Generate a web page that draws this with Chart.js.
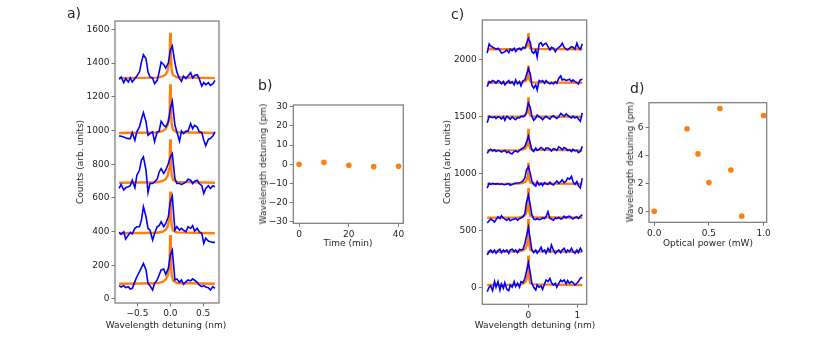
<!DOCTYPE html>
<html>
<head>
<meta charset="utf-8">
<script src="https://cdn.jsdelivr.net/npm/chart.js@4.4.1/dist/chart.umd.min.js"></script>
<style>
  body { margin: 0; background: #fff; }
  #wrap { position: relative; width: 831px; height: 346px; font-family: "DejaVu Sans", sans-serif; color: #262626; }
  canvas { position: absolute; }
  .lbl { position: absolute; font-size: 9px; white-space: nowrap; transform: translate(-50%, -50%); }
  .rot { transform: translate(-50%, -50%) rotate(-90deg); }
  .panel { position: absolute; font-size: 14px; line-height: 14px; }
</style>
</head>
<body>
<div id="wrap">
  <canvas id="chartA" width="180" height="331" style="left:55px;top:5px"></canvas>
  <canvas id="chartB" width="180" height="170" style="left:240px;top:85px"></canvas>
  <canvas id="chartC" width="175" height="331" style="left:425px;top:5px"></canvas>
  <canvas id="chartD" width="185" height="170" style="left:600px;top:85px"></canvas>

  <div class="panel" style="left:67px;top:6px">a)</div>
  <div class="panel" style="left:258px;top:78px">b)</div>
  <div class="panel" style="left:451px;top:7px">c)</div>
  <div class="panel" style="left:630px;top:81px">d)</div>

  <div class="lbl rot" style="left:80px;top:162px">Counts (arb. units)</div>
  <div class="lbl" style="left:166px;top:325px">Wavelength detuning (nm)</div>
  <div class="lbl rot" style="left:263px;top:164px">Wavelength detuning (pm)</div>
  <div class="lbl" style="left:348px;top:243px">Time (min)</div>
  <div class="lbl rot" style="left:447px;top:162px">Counts (arb. units)</div>
  <div class="lbl" style="left:535px;top:325px">Wavelength detuning (nm)</div>
  <div class="lbl rot" style="left:630px;top:162px">Wavelength detuning (pm)</div>
  <div class="lbl" style="left:708px;top:243px">Optical power (mW)</div>
</div>
<script>
// panel a: spectra at different times
const aWave = [-0.78, -0.75, -0.71, -0.68, -0.64, -0.61, -0.58, -0.54, -0.51, -0.47, -0.44, -0.41, -0.37, -0.34, -0.31,
  -0.27, -0.24, -0.20, -0.17, -0.14, -0.10, -0.07, -0.03, 0.00, 0.03, 0.07, 0.10, 0.14, 0.17, 0.20, 0.24, 0.27, 0.31,
  0.34, 0.37, 0.41, 0.44, 0.48, 0.51, 0.54, 0.58, 0.61, 0.65, 0.68];
const aCounts1 = [1304, 1318, 1284, 1308, 1288, 1312, 1288, 1308, 1323, 1347, 1406, 1450, 1426, 1347, 1318, 1312, 1278,
  1298, 1347, 1406, 1391, 1371, 1402, 1475, 1501, 1402, 1347, 1308, 1292, 1323, 1308, 1323, 1343, 1312, 1327, 1331,
  1308, 1264, 1284, 1272, 1284, 1268, 1278, 1298];
const aCounts2 = [968, 966, 962, 956, 952, 952, 988, 942, 992, 1021, 1067, 1106, 1051, 972, 982, 992, 933, 992, 996,
  1055, 1031, 1021, 1051, 1130, 1173, 1031, 992, 936, 996, 982, 996, 996, 1041, 1011, 1031, 1021, 992, 988, 942, 909,
  948, 952, 968, 992];
const aCounts3 = [656, 680, 646, 660, 666, 672, 705, 660, 735, 764, 824, 843, 764, 632, 685, 685, 695, 711, 754, 774,
  745, 764, 804, 843, 863, 715, 685, 685, 680, 685, 695, 711, 705, 685, 699, 705, 685, 672, 626, 656, 672, 656, 672, 666];
const aCounts4 = [395, 383, 399, 356, 379, 395, 387, 419, 429, 429, 468, 547, 488, 419, 409, 350, 389, 429, 435, 458,
  429, 448, 488, 577, 610, 409, 429, 409, 419, 409, 399, 429, 419, 435, 403, 419, 399, 389, 330, 360, 344, 340, 336, 336];
const aCounts5 = [79, 71, 79, 67, 73, 59, 63, 103, 132, 162, 186, 211, 172, 93, 79, 53, 93, 113, 142, 172, 178, 146,
  182, 261, 290, 113, 119, 99, 113, 87, 103, 113, 107, 119, 111, 99, 83, 73, 79, 71, 67, 53, 73, 63];
const aFitWave = [-0.78, -0.2, -0.12, -0.07, -0.04, -0.02, -0.008, 0, 0.008, 0.02, 0.04, 0.1, 0.68];
const aFit1 = [1311, 1314, 1321, 1333, 1356, 1396, 1480, 1580, 1460, 1361, 1329, 1316, 1311];
const aFit2 = [985, 988, 996, 1009, 1033, 1076, 1168, 1275, 1146, 1039, 1004, 990, 985];
const aFit3 = [690, 693, 700, 711, 733, 771, 852, 948, 833, 738, 707, 695, 690];
const aFit4 = [390, 393, 399, 410, 431, 468, 546, 638, 528, 436, 407, 395, 390];
const aFit5 = [90, 93, 101, 114, 138, 181, 273, 380, 251, 144, 109, 95, 90];
const aXTicks = [-0.5, 0, 0.5];
const aYTicks = [0, 200, 400, 600, 800, 1000, 1200, 1400, 1600];

// panel b: drift over time
const timeMin = [0, 10, 20, 30, 40];
const driftPm = [0, 1.0, -0.5, -1.2, -1.0];
const bXTicks = [0, 20, 40];
const bYTicks = [-30, -20, -10, 0, 10, 20, 30];

// panel c: spectra at different optical powers
const cWave = [-0.84, -0.80, -0.77, -0.73, -0.69, -0.66, -0.62, -0.58, -0.55, -0.51, -0.48, -0.44, -0.40, -0.37, -0.33,
  -0.29, -0.26, -0.22, -0.18, -0.15, -0.11, -0.07, -0.04, 0.00, 0.04, 0.07, 0.11, 0.15, 0.18, 0.22, 0.26, 0.29, 0.33,
  0.36, 0.40, 0.44, 0.47, 0.51, 0.55, 0.58, 0.62, 0.66, 0.69, 0.73, 0.77, 0.80, 0.84, 0.88, 0.91, 0.95, 0.99, 1.02,
  1.06, 1.10];
const cCounts1 = [2060, 2142, 2124, 2112, 2104, 2095, 2104, 2083, 2060, 2065, 2074, 2089, 2065, 2095, 2083, 2104, 2074,
  2095, 2104, 2089, 2112, 2104, 2142, 2190, 2153, 2074, 2060, 2089, 2024, 2142, 2153, 2124, 2142, 2148, 2118, 2089,
  2112, 2104, 2074, 2095, 2112, 2124, 2148, 2112, 2095, 2089, 2104, 2118, 2112, 2095, 2148, 2112, 2095, 2142];
const cCounts2 = [1766, 1810, 1801, 1819, 1810, 1796, 1819, 1810, 1790, 1810, 1781, 1801, 1819, 1796, 1810, 1781, 1825,
  1790, 1810, 1772, 1819, 1825, 1869, 1925, 1878, 1781, 1752, 1781, 1737, 1819, 1810, 1819, 1796, 1819, 1801, 1790,
  1801, 1790, 1810, 1796, 1840, 1860, 1825, 1831, 1819, 1825, 1831, 1810, 1825, 1810, 1801, 1790, 1825, 1831];
const cCounts3 = [1448, 1505, 1498, 1492, 1500, 1485, 1502, 1495, 1480, 1500, 1470, 1505, 1490, 1478, 1500, 1485, 1475,
  1495, 1490, 1505, 1500, 1510, 1540, 1620, 1580, 1505, 1470, 1490, 1515, 1500, 1490, 1475, 1495, 1505, 1490, 1480,
  1500, 1510, 1495, 1485, 1500, 1530, 1520, 1505, 1525, 1515, 1500, 1490, 1505, 1490, 1500, 1480, 1460, 1535];
const cCounts4 = [1180, 1205, 1215, 1200, 1210, 1195, 1205, 1200, 1190, 1200, 1205, 1185, 1195, 1180, 1175, 1195, 1200,
  1190, 1205, 1215, 1225, 1240, 1275, 1330, 1265, 1210, 1195, 1225, 1205, 1215, 1230, 1220, 1205, 1225, 1225, 1215,
  1200, 1220, 1215, 1205, 1235, 1225, 1210, 1230, 1220, 1205, 1210, 1195, 1215, 1200, 1205, 1185, 1195, 1240];
const cCounts5 = [872, 915, 905, 912, 910, 908, 912, 905, 910, 905, 902, 908, 912, 898, 905, 912, 915, 918, 920, 925,
  935, 965, 1030, 1060, 1000, 935, 905, 890, 930, 900, 915, 895, 920, 910, 905, 925, 910, 900, 920, 935, 915, 930, 945,
  920, 935, 960, 950, 975, 930, 905, 930, 895, 875, 960];
const cCounts6 = [565, 585, 600, 590, 575, 595, 620, 605, 630, 610, 600, 590, 605, 585, 595, 600, 605, 590, 605, 610,
  620, 650, 745, 810, 720, 640, 600, 595, 605, 595, 600, 610, 605, 620, 665, 605, 600, 590, 610, 605, 615, 600, 605,
  625, 610, 620, 625, 610, 600, 615, 620, 605, 625, 638];
const cCounts7 = [284, 314, 328, 305, 328, 299, 322, 334, 305, 328, 314, 328, 299, 328, 334, 314, 328, 305, 334, 328,
  334, 387, 446, 528, 416, 328, 305, 328, 299, 322, 352, 314, 328, 299, 343, 314, 372, 328, 299, 314, 328, 305, 328,
  343, 305, 328, 314, 343, 314, 299, 328, 305, 343, 314];
const cCounts8 = [-38, 0, 12, -30, 50, 0, 50, -24, 29, -9, 40, -18, -30, 20, 0, 50, 6, 35, 0, 50, 41, 79, 137, 217,
  123, 35, 0, -24, 20, 0, 12, -18, 29, 64, 50, 79, 41, 20, 35, 0, 35, 64, 50, 64, 29, 58, 35, 50, 41, 20, 35, 50, 79, 88];
const cFitWave = [-0.84, -0.2, -0.12, -0.07, -0.04, -0.02, -0.008, 0, 0.008, 0.02, 0.04, 0.1, 1.10];
const cFit1 = [2095, 2097, 2100, 2106, 2115, 2134, 2180, 2235, 2172, 2120, 2104, 2098, 2095];
const cFit2 = [1800, 1802, 1805, 1812, 1822, 1843, 1893, 1950, 1882, 1827, 1810, 1803, 1800];
const cFit3 = [1500, 1502, 1506, 1514, 1528, 1553, 1608, 1671, 1594, 1531, 1511, 1503, 1500];
const cFit4 = [1205, 1207, 1212, 1220, 1237, 1264, 1325, 1395, 1310, 1240, 1218, 1209, 1205];
const cFit5 = [910, 912, 917, 925, 941, 968, 1027, 1096, 1013, 945, 922, 913, 910];
const cFit6 = [612, 615, 622, 633, 656, 695, 778, 875, 757, 661, 630, 617, 612];
const cFit7 = [312, 315, 323, 335, 360, 403, 493, 600, 470, 365, 331, 317, 312];
const cFit8 = [20, 23, 30, 41, 63, 102, 184, 280, 163, 68, 37, 25, 20];
const cXTicks = [0, 1];
const cYTicks = [0, 500, 1000, 1500, 2000];

// panel d: shift vs optical power
const powerMw = [0, 0.3, 0.4, 0.5, 0.6, 0.7, 0.8, 1.0];
const shiftPm = [0, 5.9, 4.1, 2.05, 7.35, 2.95, -0.35, 6.85];
const dXTicks = [0, 0.5, 1];
const dYTicks = [0, 2, 4, 6];

const BLUE = '#0000ff';
const ORANGE = '#ff7f0e';
const FRAME = '#777777';
const TEXT = '#262626';

const frame = {
  id: 'frame',
  afterDatasetsDraw(chart) {
    const { ctx, chartArea: a } = chart;
    ctx.save();
    ctx.strokeStyle = FRAME;
    ctx.lineWidth = 1.2;
    ctx.strokeRect(a.left, a.top, a.right - a.left, a.bottom - a.top);
    ctx.restore();
  }
};

function zip(xs, ys) {
  return xs.map((x, i) => ({ x: x, y: ys[i] }));
}

function fmt(decimals) {
  return v => v.toFixed(decimals).replace('-', '\u2212');
}

function axis(min, max, ticks, size, decimals, vertical) {
  return {
    type: 'linear',
    min: min,
    max: max,
    afterBuildTicks: s => { s.ticks = ticks.map(v => ({ value: v })); },
    afterFit: s => { if (vertical) s.width = size; else s.height = size; },
    border: { display: false },
    grid: { drawOnChartArea: false, drawTicks: true, tickLength: 3.5, color: FRAME, lineWidth: 1 },
    ticks: {
      padding: 2,
      color: TEXT,
      font: { family: 'DejaVu Sans', size: 9 },
      maxRotation: 0,
      autoSkip: false,
      callback: fmt(decimals)
    }
  };
}

function spectra(waves, counts, fitWave, fits) {
  const sets = [];
  counts.forEach(c => sets.push({
    data: zip(waves, c), borderColor: BLUE, borderWidth: 1.6, pointRadius: 0, tension: 0, order: 0
  }));
  fits.forEach(f => sets.push({
    data: zip(fitWave, f), borderColor: ORANGE, borderWidth: 2.4, pointRadius: 0, tension: 0, order: 1
  }));
  return sets;
}

const base = {
  responsive: false,
  animation: false,
  events: [],
  plugins: { legend: { display: false }, tooltip: { enabled: false } }
};

new Chart(document.getElementById('chartA'), {
  type: 'line',
  data: {
    datasets: spectra(aWave, [aCounts1, aCounts2, aCounts3, aCounts4, aCounts5],
      aFitWave, [aFit1, aFit2, aFit3, aFit4, aFit5])
  },
  options: Object.assign({}, base, {
    layout: { padding: { top: 16, right: 16, left: 0, bottom: 0 } },
    scales: {
      x: axis(-0.843, 0.742, aXTicks, 33, 1, false),
      y: axis(-24, 1650, aYTicks, 60, 0, true)
    }
  }),
  plugins: [frame]
});

new Chart(document.getElementById('chartB'), {
  type: 'scatter',
  data: {
    datasets: [{
      data: zip(timeMin, driftPm), backgroundColor: ORANGE, borderColor: ORANGE, pointRadius: 2.8, borderWidth: 0
    }]
  },
  options: Object.assign({}, base, {
    layout: { padding: { top: 20, right: 16.7, left: 0, bottom: 0 } },
    scales: {
      x: axis(-2.3, 41.9, bXTicks, 31.7, 0, false),
      y: axis(-30.7, 30.9, bYTicks, 53.3, 0, true)
    }
  }),
  plugins: [frame]
});

new Chart(document.getElementById('chartC'), {
  type: 'line',
  data: {
    datasets: spectra(cWave,
      [cCounts1, cCounts2, cCounts3, cCounts4, cCounts5, cCounts6, cCounts7, cCounts8],
      cFitWave, [cFit1, cFit2, cFit3, cFit4, cFit5, cFit6, cFit7, cFit8])
  },
  options: Object.assign({}, base, {
    layout: { padding: { top: 15, right: 13.3, left: 0, bottom: 0 } },
    scales: {
      x: axis(-0.94, 1.19, cXTicks, 31.7, 0, false),
      y: axis(-150, 2352, cYTicks, 57.3, 0, true)
    }
  }),
  plugins: [frame]
});

new Chart(document.getElementById('chartD'), {
  type: 'scatter',
  data: {
    datasets: [{
      data: zip(powerMw, shiftPm), backgroundColor: ORANGE, borderColor: ORANGE, pointRadius: 2.8, borderWidth: 0
    }]
  },
  options: Object.assign({}, base, {
    layout: { padding: { top: 17.7, right: 18.3, left: 0, bottom: 0 } },
    scales: {
      x: axis(-0.048, 1.028, dXTicks, 32.7, 1, false),
      y: axis(-0.79, 7.76, dYTicks, 49, 0, true)
    }
  }),
  plugins: [frame]
});
</script>
</body>
</html>
